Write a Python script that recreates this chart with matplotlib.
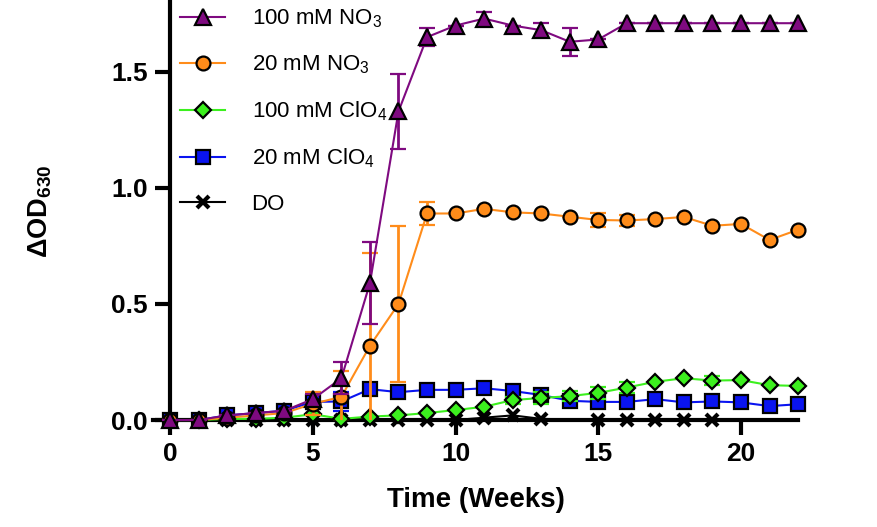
import matplotlib
matplotlib.use('Agg')
import matplotlib.pyplot as plt
from matplotlib.lines import Line2D

plt.rcParams['font.family'] = ['Liberation Sans', 'DejaVu Sans']
plt.rcParams['mathtext.fontset'] = 'custom'
plt.rcParams['mathtext.rm'] = 'Liberation Sans'
plt.rcParams['mathtext.it'] = 'Liberation Sans:italic'
plt.rcParams['mathtext.bf'] = 'Liberation Sans:bold'

weeks = list(range(23))

# 100 mM NO3
no3_100 = [0.0, 0.0, 0.02, 0.03, 0.04, 0.09, 0.18, 0.59, 1.33, 1.65, 1.70, 1.73,
           1.70, 1.68, 1.63, 1.64, 1.71, 1.71, 1.71, 1.71, 1.71, 1.71, 1.71]
no3_100_err = [0.0, 0.0, 0.0, 0.0, 0.0, 0.02, 0.07, 0.175, 0.16, 0.04, 0.0, 0.03,
               0.0, 0.03, 0.06, 0.0, 0.0, 0.0, 0.0, 0.0, 0.0, 0.0, 0.0]
# 20 mM NO3
no3_20 = [0.0, 0.0, 0.01, 0.02, 0.03, 0.07, 0.10, 0.32, 0.50, 0.89, 0.89, 0.91,
          0.895, 0.89, 0.876, 0.862, 0.86, 0.866, 0.875, 0.837, 0.845, 0.776, 0.82]
no3_20_err = [0.0, 0.0, 0.0, 0.0, 0.0, 0.05, 0.11, 0.40, 0.335, 0.05, 0.0, 0.0,
              0.0, 0.0, 0.0, 0.03, 0.025, 0.0, 0.0, 0.0, 0.0, 0.0, 0.0]
# 100 mM ClO4
clo4_100 = [0.0, 0.0, 0.005, 0.005, 0.01, 0.025, 0.005, 0.015, 0.02, 0.03, 0.043, 0.057,
            0.086, 0.095, 0.103, 0.117, 0.14, 0.165, 0.18, 0.17, 0.172, 0.15, 0.147]
clo4_100_err = [0.0, 0.0, 0.0, 0.0, 0.0, 0.0, 0.0, 0.0, 0.0, 0.0, 0.0, 0.0,
                0.015, 0.025, 0.02, 0.025, 0.025, 0.0, 0.0, 0.02, 0.0, 0.0, 0.0]
# 20 mM ClO4
clo4_20 = [0.0, 0.0, 0.02, 0.03, 0.04, 0.078, 0.08, 0.133, 0.12, 0.13, 0.13, 0.137,
           0.125, 0.108, 0.083, 0.078, 0.078, 0.09, 0.076, 0.08, 0.076, 0.06, 0.068]
clo4_20_err = [0.0, 0.0, 0.0, 0.0, 0.0, 0.03, 0.04, 0.0, 0.0, 0.0, 0.0, 0.0,
               0.0, 0.015, 0.0, 0.0, 0.0, 0.0, 0.0, 0.0, 0.0, 0.0, 0.0]
# DO (no reading at week 14, series ends at week 19)
do_weeks = [0, 1, 2, 3, 4, 5, 6, 7, 8, 9, 10, 11, 12, 13, 15, 16, 17, 18, 19]
do_vals = [0.0, 0.0, 0.0, 0.0, 0.0, 0.0, 0.0, 0.0, 0.0, 0.0, 0.0, 0.01,
           0.02, 0.005, 0.0, 0.0, 0.0, 0.0, 0.0]

fig = plt.figure(figsize=(8.77, 5.27), dpi=100)
ax = fig.add_axes([0.1745, 0.203, 0.7355, 0.797])

ax.plot(do_weeks, do_vals, color='black', lw=1.5, marker='x', ms=9, mew=3,
        clip_on=False, zorder=2)

series = [
    (clo4_20, clo4_20_err, '#0a14f0', 's', 10, 3),
    (clo4_100, clo4_100_err, '#3cf01e', 'D', 8, 4),
    (no3_20, no3_20_err, '#ff8c1a', 'o', 10, 5),
    (no3_100, no3_100_err, '#7f0a80', '^', 11, 6),
]
for vals, err, col, mk, ms, z in series:
    eb = ax.errorbar(weeks, vals, yerr=err, color=col, lw=1.5, ecolor=col,
                     elinewidth=2, capsize=6, capthick=2, marker=mk, ms=ms,
                     mfc=col, mec='black', mew=1.6, zorder=z)
    eb.lines[0].set_clip_on(False)

# legend
handles = [
    Line2D([], [], color='#7f0a80', lw=1.5, marker='^', ms=11, mfc='#7f0a80', mec='black', mew=1.6),
    Line2D([], [], color='#ff8c1a', lw=1.5, marker='o', ms=10, mfc='#ff8c1a', mec='black', mew=1.6),
    Line2D([], [], color='#3cf01e', lw=1.5, marker='D', ms=8, mfc='#3cf01e', mec='black', mew=1.6),
    Line2D([], [], color='#0a14f0', lw=1.5, marker='s', ms=10, mfc='#0a14f0', mec='black', mew=1.6),
    Line2D([], [], color='black', lw=1.5, marker='x', ms=9, mew=3),
]
labels = ['100 mM NO$_3$', '20 mM NO$_3$', '100 mM ClO$_4$', '20 mM ClO$_4$', 'DO']
ax.legend(handles, labels, loc='upper left',
          bbox_to_anchor=(0.183, 1.024), bbox_transform=fig.transFigure,
          frameon=False, fontsize=16, handlelength=2.0, labelspacing=1.06,
          handletextpad=1.2)

ax.set_xlim(-0.6, 22)
ax.set_ylim(0, 1.81)
ax.spines['left'].set_position(('data', 0))
ax.spines['right'].set_visible(False)
ax.spines['top'].set_visible(False)
ax.spines['left'].set_linewidth(3)
ax.spines['bottom'].set_linewidth(3)
ax.set_xticks([0, 5, 10, 15, 20])
ax.set_yticks([0.0, 0.5, 1.0, 1.5])
ax.set_yticklabels(['0.0', '0.5', '1.0', '1.5'])
ax.tick_params(width=3, length=11, labelsize=19, pad=5)
for t in ax.get_xticklabels() + ax.get_yticklabels():
    t.set_fontweight('bold')

ax.set_xlabel('Time (Weeks)', fontsize=20, fontweight='bold')
ax.xaxis.set_label_coords(0.5, -0.16)
ax.set_ylabel(r'$\mathbf{\Delta OD_{630}}$', fontsize=19.5)
ax.yaxis.set_label_coords(-0.153, 0.497)

plt.savefig('out.png', dpi=100)
